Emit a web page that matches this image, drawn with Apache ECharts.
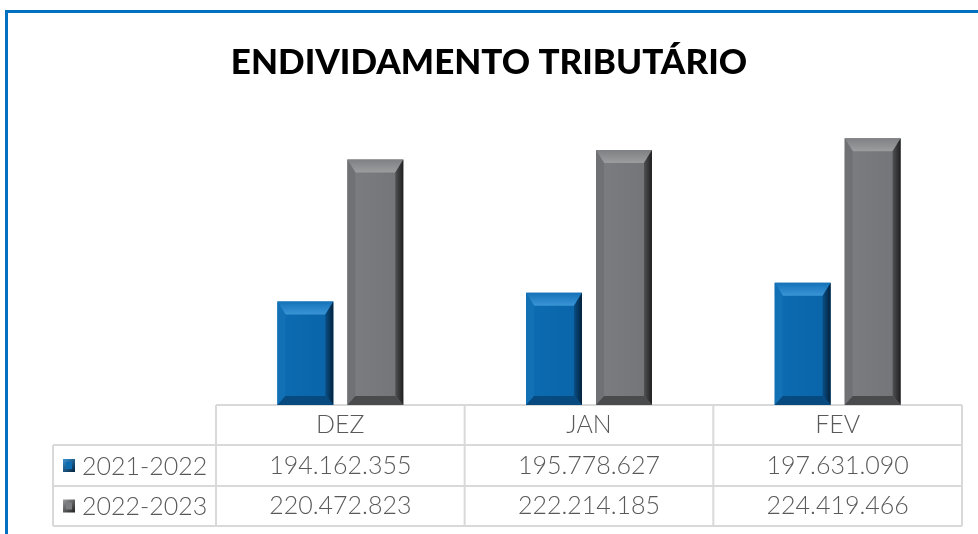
<!DOCTYPE html>
<html>
<head>
<meta charset="utf-8">
<script src="https://cdn.jsdelivr.net/npm/echarts@6/dist/echarts.min.js"></script>
<style>
html,body{margin:0;padding:0;background:#fff;}
#chart{width:978px;height:534px;}
</style>
</head>
<body>
<div id="chart"></div>
<script>
const title = 'ENDIVIDAMENTO TRIBUTÁRIO';
const categories = ['DEZ', 'JAN', 'FEV'];
const seriesNames = ['2021-2022', '2022-2023'];
const values2021 = [194162355, 195778627, 197631090];
const values2022 = [220472823, 222214185, 224419466];
const yMin = 175000000;
const yMax = 230000000;

function fmt(n) {
  return String(n).replace(/\B(?=(\d{3})+(?!\d))/g, '.');
}

const palettes = [
  { face: ['#0c6cb2', '#0a64a8'], top: ['#1572b8', '#3a95d6'], left: '#1270b5', right: ['#0a4f86', '#03223d'], bottom: '#074a80' },
  { face: ['#7c7d80', '#737477'], top: ['#7f8083', '#9c9d9f'], left: '#707174', right: ['#505153', '#1f1f20'], bottom: '#4a4b4d' }
];

function lin(x0, y0, x1, y1, c0, c1) {
  return new echarts.graphic.LinearGradient(x0, y0, x1, y1, [{ offset: 0, color: c0 }, { offset: 1, color: c1 }]);
}

function makeRender(idx) {
  const p = palettes[idx];
  return function (params, api) {
    const cat = api.value(0);
    const val = api.value(1);
    const top = api.coord([cat, val]);
    const base = api.coord([cat, yMin]);
    const band = api.size([1, 0])[0];
    const w = band * 0.225;
    const off = band * 0.1407 * (idx === 0 ? -1 : 1);
    const cx = top[0] + off;
    const x0 = cx - w / 2, x1 = cx + w / 2, y0 = top[1], y1 = base[1];
    const b = 8, bt = 13, bb = 9;
    return {
      type: 'group',
      children: [
        { type: 'rect', shape: { x: x0, y: y0, width: w, height: y1 - y0 }, style: { fill: lin(0, 0, 1, 0, p.face[0], p.face[1]) } },
        { type: 'polygon', shape: { points: [[x0, y0], [x1, y0], [x1 - b, y0 + bt], [x0 + b, y0 + bt]] }, style: { fill: lin(0, 0, 0, 1, p.top[0], p.top[1]) } },
        { type: 'polygon', shape: { points: [[x0, y0], [x0 + b, y0 + bt], [x0 + b, y1 - bb], [x0, y1]] }, style: { fill: p.left } },
        { type: 'polygon', shape: { points: [[x1, y0], [x1, y1], [x1 - b, y1 - bb], [x1 - b, y0 + bt]] }, style: { fill: lin(0, 0, 1, 0, p.right[0], p.right[1]) } },
        { type: 'polygon', shape: { points: [[x0, y1], [x0 + b, y1 - bb], [x1 - b, y1 - bb], [x1, y1]] }, style: { fill: p.bottom } }
      ]
    };
  };
}

const gridLeft = 216, gridRight = 962, tableTop = 405;
const rowLines = [445, 486, 526];
const legendLeft = 53;
const lineColor = '#d9d9d9';
const textColor = '#595959';
const tableFont = 'Lato, "Open Sans", sans-serif';

const graphics = [];
// outer blue frame
graphics.push({ type: 'polyline', shape: { points: [[6.5, 534], [6.5, 11.5], [978, 11.5]] }, style: { stroke: '#0070c0', lineWidth: 3, fill: null }, z: 10 });
// table lines
const colW = (gridRight - gridLeft) / categories.length;
graphics.push({ type: 'line', shape: { x1: gridLeft, y1: tableTop, x2: gridRight, y2: tableTop }, style: { stroke: lineColor, lineWidth: 2 } });
rowLines.forEach(y => graphics.push({ type: 'line', shape: { x1: legendLeft, y1: y, x2: gridRight, y2: y }, style: { stroke: lineColor, lineWidth: 2 } }));
for (let i = 0; i <= categories.length; i++) {
  const x = gridLeft + colW * i;
  graphics.push({ type: 'line', shape: { x1: x, y1: tableTop, x2: x, y2: rowLines[2] }, style: { stroke: lineColor, lineWidth: 2 } });
}
graphics.push({ type: 'line', shape: { x1: legendLeft, y1: rowLines[0], x2: legendLeft, y2: rowLines[2] }, style: { stroke: lineColor, lineWidth: 2 } });
// legend cells
seriesNames.forEach((name, i) => {
  const yc = (rowLines[i] + rowLines[i + 1]) / 2;
  const p = palettes[i];
  graphics.push({ type: 'rect', shape: { x: 63, y: yc - 6.5, width: 12, height: 13 }, style: { fill: lin(0, 0, 1, 1, p.top[1], p.right[1]) } });
  graphics.push({ type: 'rect', shape: { x: 66, y: yc - 3.5, width: 6, height: 7 }, style: { fill: p.face[0] } });
  graphics.push({ type: 'text', style: { text: name, x: 82, y: yc + 1, fill: textColor, font: '300 25px ' + tableFont, textVerticalAlign: 'middle' } });
});

const chart = echarts.init(document.getElementById('chart'));
chart.setOption({
  animation: false,
  backgroundColor: '#ffffff',
  title: {
    text: title, left: 'center', top: 40,
    textStyle: { fontFamily: 'Lato, sans-serif', fontWeight: 900, fontSize: 35, color: '#000000' }
  },
  grid: { left: gridLeft, right: 978 - gridRight, top: 108, bottom: 534 - tableTop },
  xAxis: {
    type: 'category', data: categories,
    axisLine: { show: false }, axisTick: { show: false },
    axisLabel: {
      margin: 0, interval: 0,
      formatter: function (v, i) {
        return '{h|' + v + '}\n{v|' + fmt(values2021[i]) + '}\n{v|' + fmt(values2022[i]) + '}';
      },
      rich: {
        h: { fontFamily: tableFont, fontWeight: 300, fontSize: 25, color: textColor, lineHeight: 40.5, align: 'center' },
        v: { fontFamily: tableFont, fontWeight: 300, fontSize: 25, color: textColor, lineHeight: 40.5, align: 'center' }
      }
    }
  },
  yAxis: { type: 'value', min: yMin, max: yMax, show: false, splitLine: { show: false } },
  series: [
    { type: 'custom', name: seriesNames[0], renderItem: makeRender(0), data: values2021.map((v, i) => [i, v]), encode: { x: 0, y: 1 } },
    { type: 'custom', name: seriesNames[1], renderItem: makeRender(1), data: values2022.map((v, i) => [i, v]), encode: { x: 0, y: 1 } }
  ],
  graphic: graphics
});
</script>
</body>
</html>
